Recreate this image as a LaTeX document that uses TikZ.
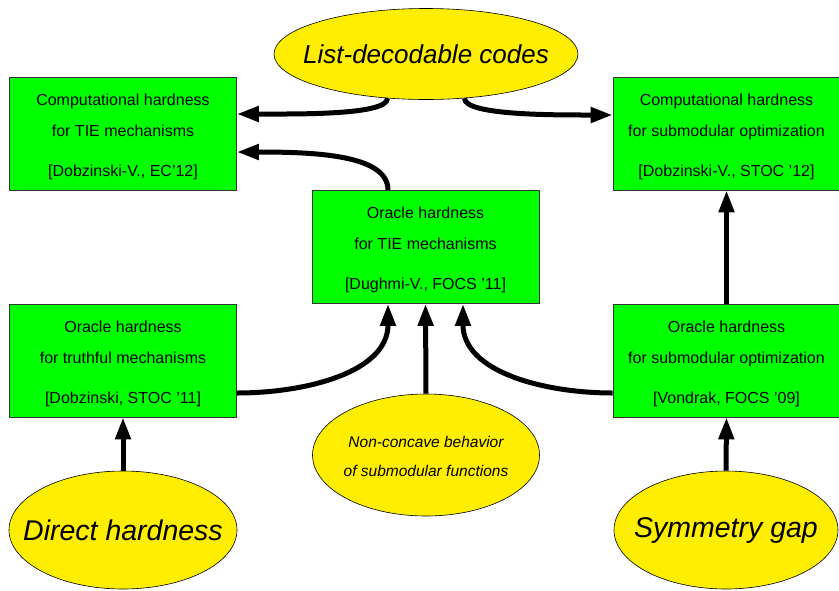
\documentclass[tikz,border=0pt]{standalone}
\usepackage{fontspec}
\setmainfont{Liberation Sans}
\usetikzlibrary{shapes.geometric,arrows.meta}
\definecolor{boxgreen}{RGB}{0,255,0}
\definecolor{elyellow}{RGB}{255,238,0}
\newcommand{\topgap}{\rule{0pt}{18pt}}
\begin{document}
\begin{tikzpicture}[x=1pt,y=1pt,
 box/.style={draw=black!80, line width=0.8pt, fill=boxgreen, minimum width=227pt, minimum height=113pt, inner sep=0pt, align=center, font=\fontsize{16}{31}\selectfont},
 oval/.style={ellipse, draw=black, line width=0.6pt, fill=elyellow, inner sep=0pt},
 ovaltext/.style={inner sep=0pt, align=center},
 arr/.style={line width=5pt, -{Triangle[length=22pt,width=15pt]}}]
\useasboundingbox (0,0) rectangle (839,-590);

\node[oval, minimum width=304pt, minimum height=91pt] (list) at (426,-54) {};
\node[ovaltext, font=\fontsize{26}{30}\selectfont\itshape] (listtext) at (list.center) {List-decodable codes};

\node[box] (ctie) at (123,-133.5) {\topgap Computational hardness\\for TIE mechanisms\\[9pt][Dobzinski-V., EC'12]};
\node[box] (csub) at (726.5,-133.5) {\topgap Computational hardness\\for submodular optimization\\[9pt][Dobzinski-V., STOC '12]};
\node[box] (otie) at (425.5,-247) {\topgap Oracle hardness\\for TIE mechanisms\\[9pt][Dughmi-V., FOCS '11]};
\node[box] (otruth) at (123,-360.5) {\topgap Oracle hardness\\for truthful mechanisms\\[9pt][Dobzinski, STOC '11]};
\node[box] (osub) at (726.5,-360.5) {\topgap Oracle hardness\\for submodular optimization\\[9pt][Vondrak, FOCS '09]};

\node[oval, minimum width=227pt, minimum height=122pt] (nc) at (426,-455) {};
\node[ovaltext, font=\fontsize{15.5}{28.5}\selectfont\itshape] (nctext) at ([yshift=-1.5pt]nc.center) {Non-concave behavior\\of submodular functions};
\node[oval, minimum width=228pt, minimum height=118pt] (dh) at (123,-530) {};
\node[ovaltext, font=\fontsize{28.5}{32}\selectfont\itshape] (dhtext) at (dh.center) {Direct hardness};
\node[oval, minimum width=224pt, minimum height=118pt] (sg) at (726,-530) {};
\node[ovaltext, font=\fontsize{28.5}{32}\selectfont\itshape] (sgtext) at (sg.center) {Symmetry gap};

\draw[arr] (list.229) .. controls +(0,-17) and +(60,0) .. ([yshift=19.5pt]ctie.east);
\draw[arr] (list.311) .. controls +(0,-17) and +(-60,0) .. ([yshift=18.5pt]csub.west);
\draw[arr] ([xshift=-37.5pt]otie.north) .. controls +(0,35) and +(80,0) .. ([yshift=-18.5pt]ctie.east);
\draw[arr] ([yshift=-32.5pt]otruth.east) to[out=0,in=-90] ([xshift=-37.5pt]otie.south);
\draw[arr] (nc.north) -- (otie.south);
\draw[arr] ([yshift=-32.5pt]osub.west) to[out=180,in=-90] ([xshift=37.5pt]otie.south);
\draw[arr] (osub.north) -- (csub.south);
\draw[arr] (dh.north) -- (otruth.south);
\draw[arr] (sg.north) -- (osub.south);
\end{tikzpicture}
\end{document}
